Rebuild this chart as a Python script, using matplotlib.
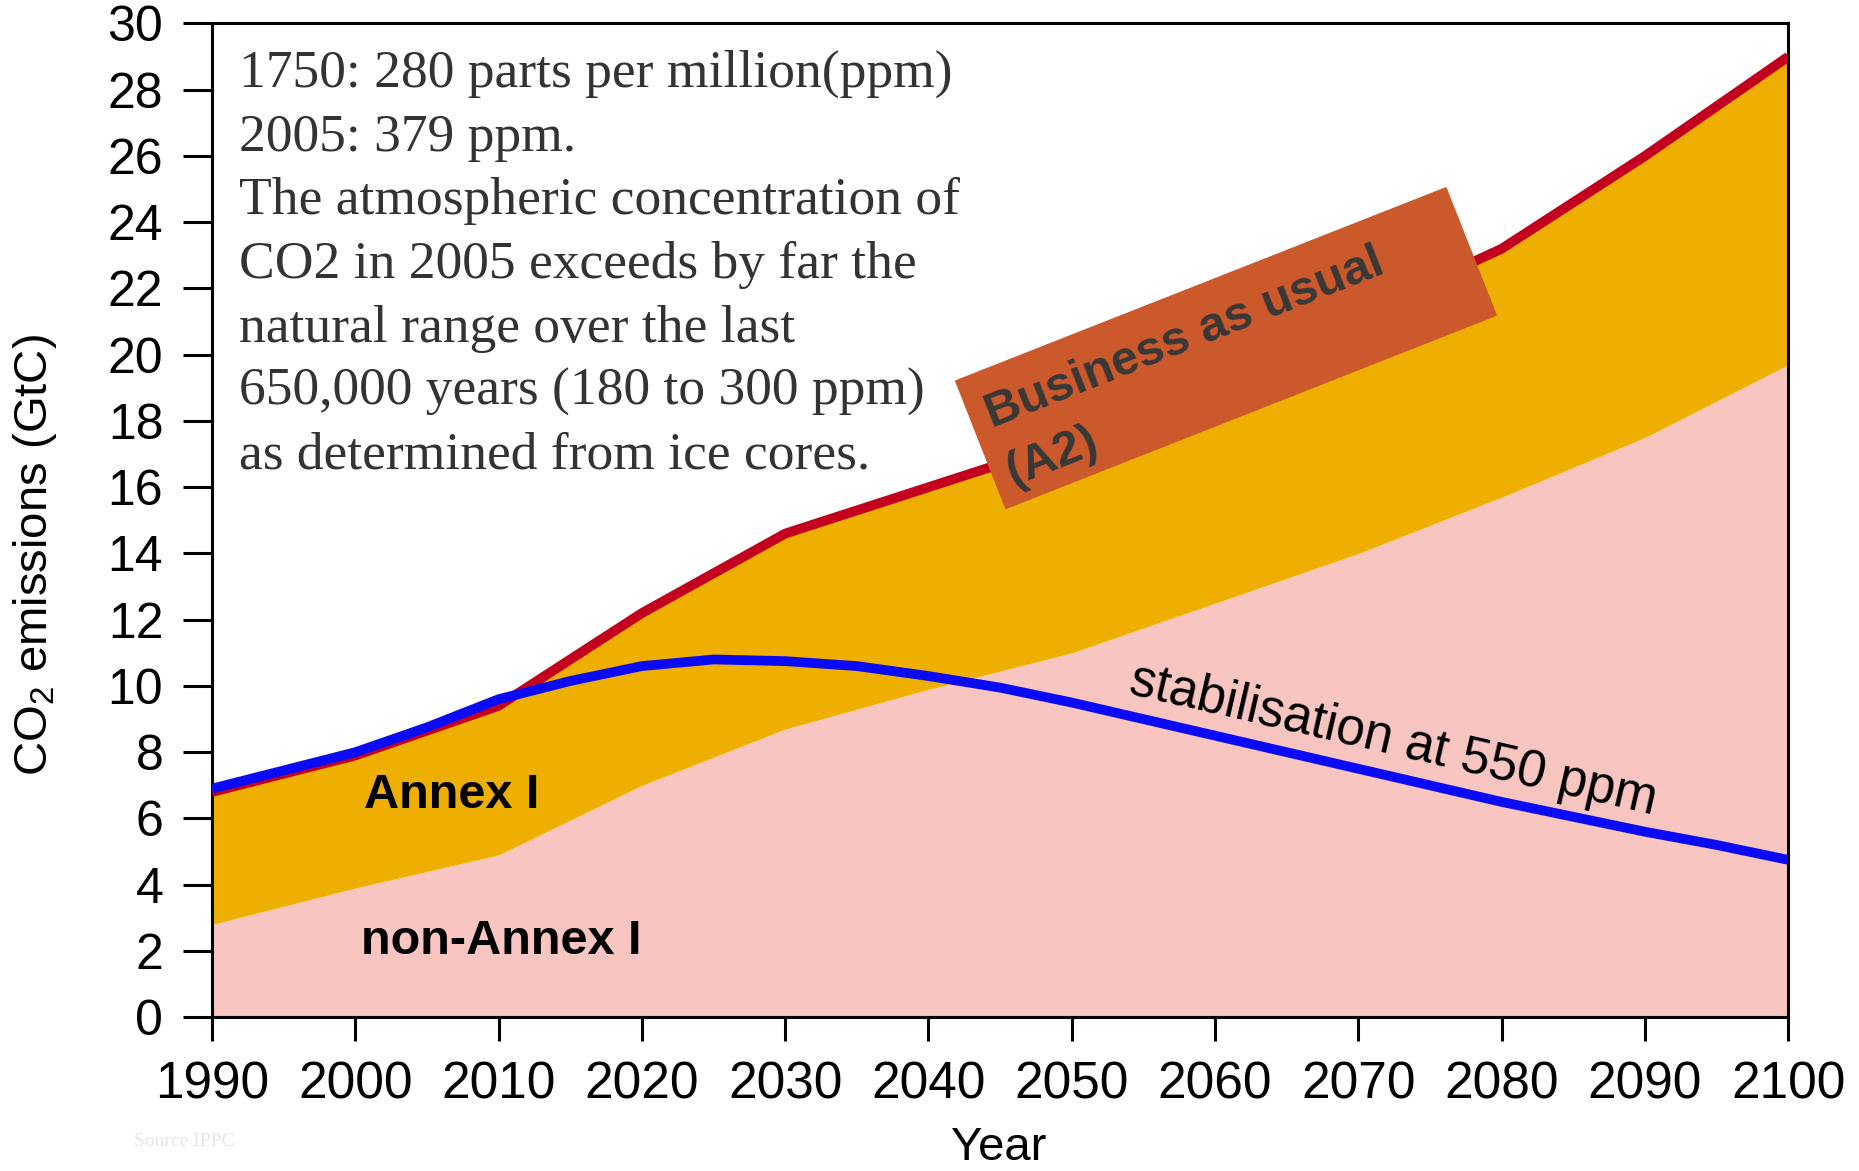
import numpy as np
import matplotlib
matplotlib.use('Agg')
import matplotlib.pyplot as plt
from matplotlib.patches import Rectangle
from matplotlib.transforms import IdentityTransform

plt.rcParams['font.family'] = ['Liberation Sans', 'DejaVu Sans']
plt.rcParams['mathtext.fontset'] = 'custom'
plt.rcParams['mathtext.rm'] = 'Liberation Sans'

# data (GtC)
years = [1990, 2000, 2010, 2020, 2030, 2040, 2050, 2060, 2070, 2080, 2090, 2100]
total_a2 = [6.8, 7.9, 9.4, 12.2, 14.6, 16.0, 17.4, 19.2, 21.2, 23.2, 26.0, 29.0]
non_annex = [2.8, 3.9, 4.9, 7.0, 8.7, 9.9, 11.0, 12.5, 14.0, 15.7, 17.5, 19.7]

stab_years = list(range(1990, 2101, 5))
stab_550 = [6.9, 7.45, 8.0, 8.75, 9.6, 10.15, 10.6, 10.8, 10.75, 10.6, 10.3, 9.95,
            9.5, 9.0, 8.5, 8.0, 7.5, 7.0, 6.5, 6.05, 5.6, 5.2, 4.75]

note_lines = [
    "1750: 280 parts per million(ppm)",
    "2005: 379 ppm.",
    "The atmospheric concentration of",
    "CO2 in 2005 exceeds by far the",
    "natural range over the last",
    "650,000 years (180 to 300 ppm)",
    "as determined from ice cores.",
]

pink = '#F8C5C0'
yellow = '#EFAF00'
red = '#C3001E'
blue = '#0A0AF5'
box_col = '#CC592B'

fig = plt.figure(figsize=(18.59, 11.71), dpi=100)
ax = fig.add_axes([0.114, 0.1313, 0.848, 0.8487])

ax.fill_between(years, 0, non_annex, color=pink, lw=0, zorder=1)
ax.fill_between(years, non_annex, total_a2, color=yellow, lw=0, zorder=1)
ax.plot(years, total_a2, color=red, lw=7, zorder=3, solid_capstyle='butt')
ax.plot(stab_years, stab_550, color=blue, lw=7, zorder=4, solid_capstyle='butt')

ax.set_xlim(1990, 2100)
ax.set_ylim(0, 30)
ax.set_xticks(years)
ax.set_yticks(range(0, 31, 2))

for s in ax.spines.values():
    s.set_linewidth(2.2)
ax.tick_params(axis='y', length=21, width=2.2, labelsize=36, pad=14)
ax.tick_params(axis='x', length=17, width=2.2, labelsize=37, pad=14)

fig.text(0.019, 0.526, 'CO$_2$ emissions (GtC)', rotation=90, fontsize=34,
         ha='center', va='center')
fig.text(0.537, 0.02, 'Year', fontsize=34, ha='center', va='center')
fig.text(0.072, 0.025, 'Source IPPC', fontsize=14, color='#e6e6e6',
         family='Liberation Serif', ha='left', va='center')

ax.text(1991.9, 29.2, '\n'.join(note_lines), family='Liberation Serif',
        fontsize=38.5, color='#333333', ha='left', va='top', linespacing=1.42,
        zorder=6)

ax.text(2000.6, 6.68, 'Annex I', fontsize=35, fontweight='bold',
        ha='left', va='center', zorder=6)
ax.text(2000.4, 2.29, 'non-Annex I', fontsize=35, fontweight='bold',
        ha='left', va='center', zorder=6)

ax.text(2072.4, 8.35, 'stabilisation at 550 ppm', fontsize=37, rotation=-13,
        rotation_mode='anchor', ha='center', va='center', zorder=6)

# rotated label box for the A2 scenario
bx, by = ax.transData.transform((2045.4, 15.36))
ax.add_patch(Rectangle((bx, by), 527, 137, angle=21.5, color=box_col,
                       transform=IdentityTransform(), zorder=5))
ax.text(2044.4, 17.8, 'Business as usual', fontsize=35, fontweight='bold',
        color='#383838', rotation=21.5, rotation_mode='anchor',
        ha='left', va='baseline', zorder=6)
ax.text(2045.9, 16.05, '(A2)', fontsize=35, fontweight='bold',
        color='#383838', rotation=21.5, rotation_mode='anchor',
        ha='left', va='baseline', zorder=6)

fig.savefig('out.png', dpi=100)
